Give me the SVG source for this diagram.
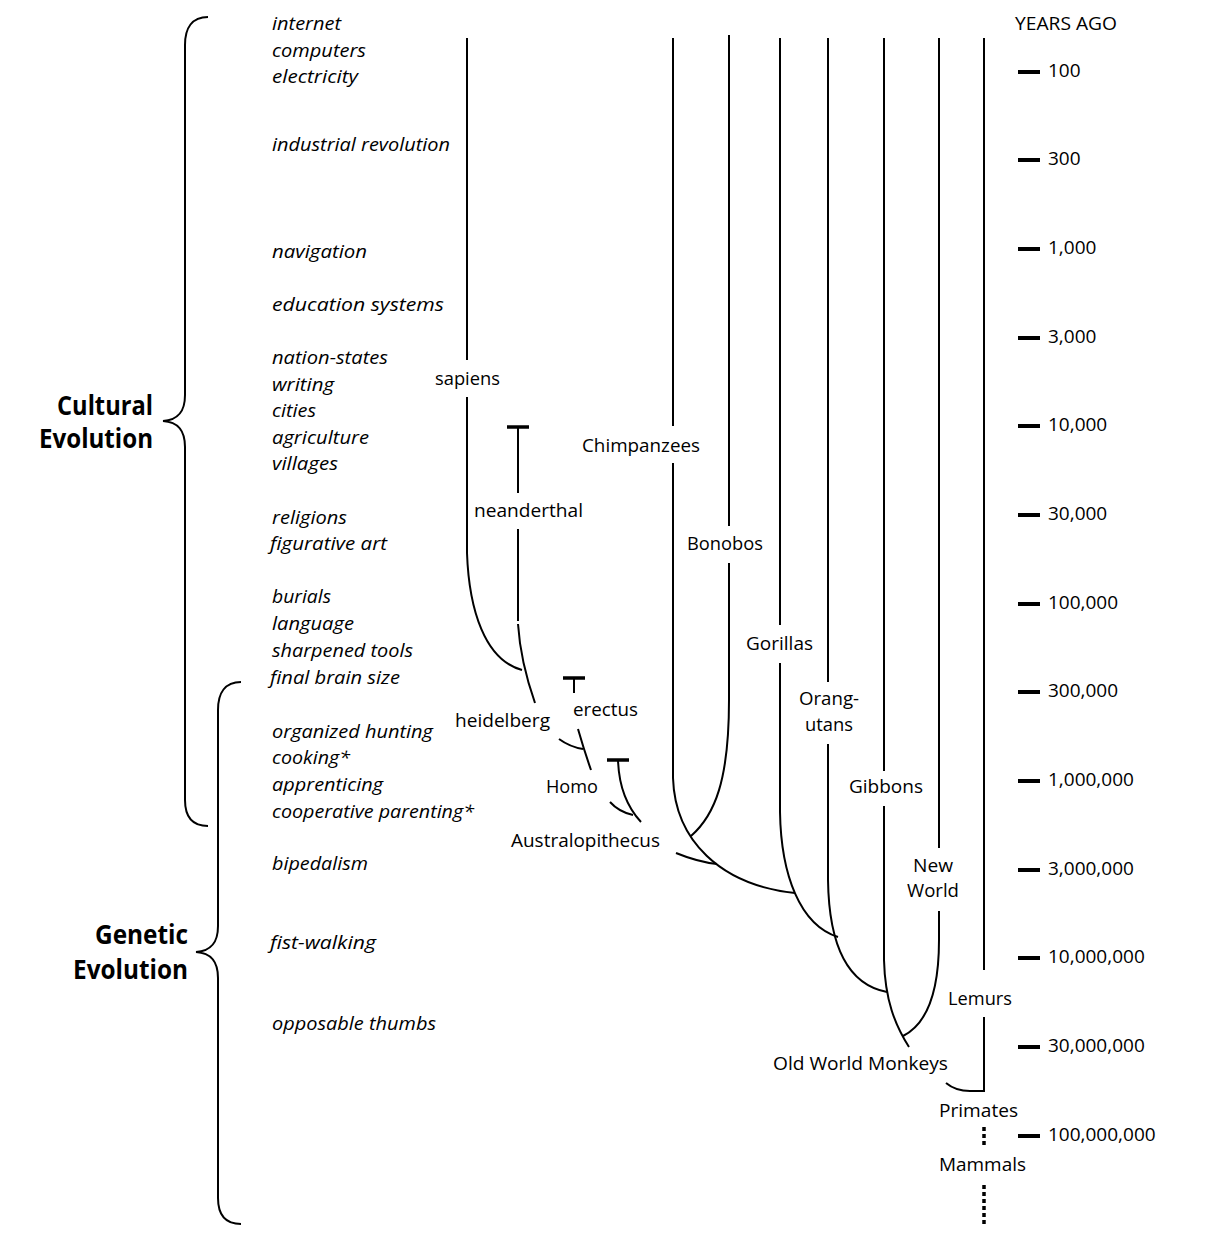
<svg xmlns="http://www.w3.org/2000/svg" width="1214" height="1244" viewBox="0 0 1214 1244">
<style>
.t{font-family:"Open Sans","Liberation Sans",sans-serif;font-size:19px;fill:#000}
.i{font-style:italic}
.b{font-weight:bold;font-size:26px}
.ln{fill:none;stroke:#000;stroke-width:2}
.bar{fill:none;stroke:#000;stroke-width:3.5}
.tk{stroke:#000;stroke-width:4}
.dot{fill:none;stroke:#000;stroke-width:3.5;stroke-dasharray:4 3}
</style>
<rect width="1214" height="1244" fill="#fff"/>

<g id="braces">
<path class="ln" d="M208,17 C192,17 185,28 185,45 L185,395 C185,412 178,420 163,421 C178,422 185,430 185,447 L185,800 C185,816 192,826 208,826"/>
<path class="ln" d="M241,682 C225,682 218,693 218,710 L218,926 C218,943 211,951 196,952 C211,953 218,961 218,978 L218,1198 C218,1214 225,1224 241,1224"/>
</g>
<g id="brace-labels">
<text class="t b" x="57" y="415" textLength="96" lengthAdjust="spacingAndGlyphs">Cultural</text>
<text class="t b" x="39" y="448" textLength="114" lengthAdjust="spacingAndGlyphs">Evolution</text>
<text class="t b" x="95" y="944" textLength="93" lengthAdjust="spacingAndGlyphs">Genetic</text>
<text class="t b" x="73" y="979" textLength="115" lengthAdjust="spacingAndGlyphs">Evolution</text>
</g>

<g id="milestones">
<text class="t i" x="272" y="30" textLength="69" lengthAdjust="spacingAndGlyphs">internet</text>
<text class="t i" x="272" y="57" textLength="94" lengthAdjust="spacingAndGlyphs">computers</text>
<text class="t i" x="272" y="83" textLength="86" lengthAdjust="spacingAndGlyphs">electricity</text>
<text class="t i" x="272" y="151" textLength="178" lengthAdjust="spacingAndGlyphs">industrial revolution</text>
<text class="t i" x="272" y="258" textLength="95" lengthAdjust="spacingAndGlyphs">navigation</text>
<text class="t i" x="272" y="311" textLength="172" lengthAdjust="spacingAndGlyphs">education systems</text>
<text class="t i" x="272" y="364" textLength="116" lengthAdjust="spacingAndGlyphs">nation-states</text>
<text class="t i" x="272" y="391" textLength="62" lengthAdjust="spacingAndGlyphs">writing</text>
<text class="t i" x="272" y="417" textLength="44" lengthAdjust="spacingAndGlyphs">cities</text>
<text class="t i" x="272" y="444" textLength="97" lengthAdjust="spacingAndGlyphs">agriculture</text>
<text class="t i" x="272" y="470" textLength="66" lengthAdjust="spacingAndGlyphs">villages</text>
<text class="t i" x="272" y="524" textLength="75" lengthAdjust="spacingAndGlyphs">religions</text>
<text class="t i" x="270" y="550" textLength="117" lengthAdjust="spacingAndGlyphs">figurative art</text>
<text class="t i" x="272" y="603" textLength="59" lengthAdjust="spacingAndGlyphs">burials</text>
<text class="t i" x="272" y="630" textLength="82" lengthAdjust="spacingAndGlyphs">language</text>
<text class="t i" x="272" y="657" textLength="141" lengthAdjust="spacingAndGlyphs">sharpened tools</text>
<text class="t i" x="270" y="684" textLength="130" lengthAdjust="spacingAndGlyphs">final brain size</text>
<text class="t i" x="272" y="738" textLength="161" lengthAdjust="spacingAndGlyphs">organized hunting</text>
<text class="t i" x="272" y="764" textLength="78" lengthAdjust="spacingAndGlyphs">cooking*</text>
<text class="t i" x="272" y="791" textLength="111" lengthAdjust="spacingAndGlyphs">apprenticing</text>
<text class="t i" x="272" y="818" textLength="202" lengthAdjust="spacingAndGlyphs">cooperative parenting*</text>
<text class="t i" x="272" y="870" textLength="96" lengthAdjust="spacingAndGlyphs">bipedalism</text>
<text class="t i" x="270" y="949" textLength="106" lengthAdjust="spacingAndGlyphs">fist-walking</text>
<text class="t i" x="272" y="1030" textLength="164" lengthAdjust="spacingAndGlyphs">opposable thumbs</text>
</g>

<g id="connectors">
<!-- hominins -->
<path class="ln" d="M467,38 V360 M467,397 V553 C469,610 485,660 522,670"/>
<path class="bar" d="M507,427 H529"/>
<path class="ln" d="M518,427 V493 M518,529 V621 M518,624 C520,655 528,683 535,703"/>
<path class="ln" d="M559,739 Q570,747 583,749"/>
<path class="bar" d="M563,678 H585"/>
<path class="ln" d="M574,678 V693 M578,729 Q584,750 591,770"/>
<path class="bar" d="M607,760 H629"/>
<path class="ln" d="M618,760 C619,790 628,808 641,822"/>
<path class="ln" d="M610,802 Q619,812 633,815"/>
<path class="ln" d="M676,853 Q698,862 717,864"/>
<!-- apes and primates -->
<path class="ln" d="M673,38 V426 M673,463 V778 C675,840 720,885 795,893"/>
<path class="ln" d="M729,35 V526 M729,563 V700 C729,780 715,815 691,836"/>
<path class="ln" d="M780,38 V625 M780,663 V812 C781,875 800,925 838,937"/>
<path class="ln" d="M828,38 V682 M828,744 V880 C829,950 850,985 887,992"/>
<path class="ln" d="M884,38 V771 M884,806 V960 C885,1000 895,1025 909,1047"/>
<path class="ln" d="M939,38 V848 M939,911 V940 C939,995 925,1025 903,1036"/>
<path class="ln" d="M984,38 V970 M984,1017 V1091 H970 C960,1091 952,1088 946,1083"/>
<path class="dot" d="M984,1127 V1145"/>
<path class="dot" d="M984,1185 V1224"/>
</g>

<g id="taxa">
<text id="sapiens" class="t" x="435" y="385" textLength="65" lengthAdjust="spacingAndGlyphs">sapiens</text>
<text id="neanderthal" class="t" x="474" y="517" textLength="109" lengthAdjust="spacingAndGlyphs">neanderthal</text>
<text id="heidelberg" class="t" x="455" y="727" textLength="95" lengthAdjust="spacingAndGlyphs">heidelberg</text>
<text id="erectus" class="t" x="573" y="716" textLength="65" lengthAdjust="spacingAndGlyphs">erectus</text>
<text id="homo" class="t" x="546" y="793" textLength="52" lengthAdjust="spacingAndGlyphs">Homo</text>
<text id="australopithecus" class="t" x="511" y="847" textLength="149" lengthAdjust="spacingAndGlyphs">Australopithecus</text>
<text id="chimpanzees" class="t" x="582" y="452" textLength="118" lengthAdjust="spacingAndGlyphs">Chimpanzees</text>
<text id="bonobos" class="t" x="687" y="550" textLength="76" lengthAdjust="spacingAndGlyphs">Bonobos</text>
<text id="gorillas" class="t" x="746" y="650" textLength="67" lengthAdjust="spacingAndGlyphs">Gorillas</text>
<g id="orangutans">
<text class="t" x="799" y="705" textLength="60" lengthAdjust="spacingAndGlyphs">Orang-</text>
<text class="t" x="805" y="731" textLength="48" lengthAdjust="spacingAndGlyphs">utans</text>
</g>
<text id="gibbons" class="t" x="849" y="793" textLength="74" lengthAdjust="spacingAndGlyphs">Gibbons</text>
<g id="newworld">
<text class="t" x="913" y="872" textLength="40" lengthAdjust="spacingAndGlyphs">New</text>
<text class="t" x="907" y="897" textLength="52" lengthAdjust="spacingAndGlyphs">World</text>
</g>
<text id="lemurs" class="t" x="948" y="1005" textLength="64" lengthAdjust="spacingAndGlyphs">Lemurs</text>
<text id="oldworld" class="t" x="773" y="1070" textLength="175" lengthAdjust="spacingAndGlyphs">Old World Monkeys</text>
<text id="primates" class="t" x="939" y="1117" textLength="79" lengthAdjust="spacingAndGlyphs">Primates</text>
<text id="mammals" class="t" x="939" y="1171" textLength="87" lengthAdjust="spacingAndGlyphs">Mammals</text>
</g>

<g id="scale">
<text class="t" x="1015" y="30" textLength="102" lengthAdjust="spacingAndGlyphs">YEARS AGO</text>
<line class="tk" x1="1018" y1="72" x2="1040" y2="72"/><text class="t" x="1048" y="77">100</text>
<line class="tk" x1="1018" y1="160" x2="1040" y2="160"/><text class="t" x="1048" y="165">300</text>
<line class="tk" x1="1018" y1="249" x2="1040" y2="249"/><text class="t" x="1048" y="254">1,000</text>
<line class="tk" x1="1018" y1="338" x2="1040" y2="338"/><text class="t" x="1048" y="343">3,000</text>
<line class="tk" x1="1018" y1="426" x2="1040" y2="426"/><text class="t" x="1048" y="431">10,000</text>
<line class="tk" x1="1018" y1="515" x2="1040" y2="515"/><text class="t" x="1048" y="520">30,000</text>
<line class="tk" x1="1018" y1="604" x2="1040" y2="604"/><text class="t" x="1048" y="609">100,000</text>
<line class="tk" x1="1018" y1="692" x2="1040" y2="692"/><text class="t" x="1048" y="697">300,000</text>
<line class="tk" x1="1018" y1="781" x2="1040" y2="781"/><text class="t" x="1048" y="786">1,000,000</text>
<line class="tk" x1="1018" y1="870" x2="1040" y2="870"/><text class="t" x="1048" y="875">3,000,000</text>
<line class="tk" x1="1018" y1="958" x2="1040" y2="958"/><text class="t" x="1048" y="963">10,000,000</text>
<line class="tk" x1="1018" y1="1047" x2="1040" y2="1047"/><text class="t" x="1048" y="1052">30,000,000</text>
<line class="tk" x1="1018" y1="1136" x2="1040" y2="1136"/><text class="t" x="1048" y="1141">100,000,000</text>
</g>
</svg>
